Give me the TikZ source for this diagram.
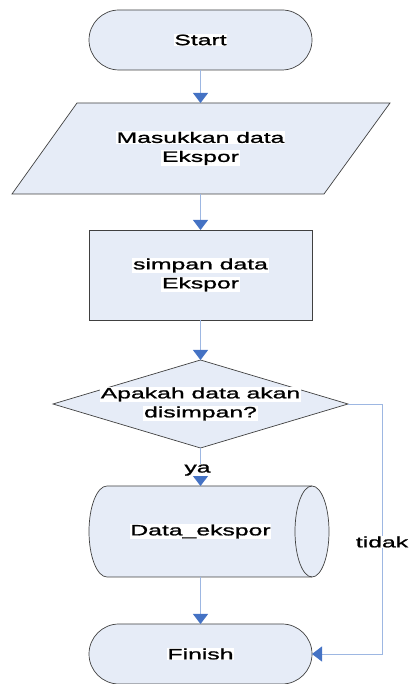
\documentclass[tikz,border=0pt]{standalone}
\usepackage{fontspec}
\setmainfont{Liberation Sans}[FakeStretch=1.65,FakeBold=1.2]
\usetikzlibrary{shapes.geometric,shapes.misc,arrows.meta}
\definecolor{shapefill}{HTML}{E6ECF7}
\definecolor{shapeline}{HTML}{404040}
\definecolor{conline}{HTML}{9DB7E2}
\definecolor{tipblue}{HTML}{4472C4}
\newcommand{\wbox}[1]{{\setlength{\fboxsep}{0.6pt}\colorbox{white}{#1}}}
\begin{document}
\begin{tikzpicture}[x=1pt,y=1pt,
  txt/.style={align=center, font=\fontsize{15}{19}\selectfont},
  term/.style={rounded rectangle, draw=shapeline, fill=shapefill, line width=0.7pt, minimum width=223pt, minimum height=60pt, inner sep=0pt, outer sep=0pt, txt},
  procbox/.style={rectangle, draw=shapeline, fill=shapefill, line width=0.7pt, minimum width=223pt, minimum height=90pt, outer sep=0pt, txt},
  decbox/.style={diamond, draw=shapeline, fill=shapefill, line width=0.7pt, minimum width=295pt, minimum height=88pt, inner sep=0pt, outer sep=0pt},
  ghost/.style={minimum height=91pt, inner sep=0pt, outer sep=0pt, txt},
  outline/.style={draw=shapeline, fill=shapefill, line width=0.7pt},
  conn/.style={draw=conline, line width=0.9pt, -{Triangle[width=15pt,length=10pt,color=tipblue,fill=tipblue]}},
  lbl/.style={fill=white, inner sep=0.6pt, txt}]
\useasboundingbox (0,0) rectangle (409,684);
% shapes
\node[term] (start) at (200.5,644) {\wbox{Start}};
\path[outline] (77,581) -- (390,581) -- (324,490) -- (12,490) -- cycle;
\node[ghost] (in) at (200.5,535.5) {\wbox{Masukkan data}\\\wbox{Ekspor}};
\node[procbox] (proc) at (200.5,409) {\wbox{simpan data}\\\wbox{Ekspor}};
\node[decbox] (dec) at (200.5,280) {};
\node[txt] (dectext) at (200.5,280) {\wbox{Apakah data akan}\\\wbox{disimpan?}};
\path[outline] (107,198) -- (312,198) arc[start angle=90,end angle=-90,x radius=17,y radius=45.5] -- (107,107) arc[start angle=270,end angle=90,x radius=18,y radius=45.5] -- cycle;
\draw[draw=shapeline, line width=0.7pt] (312,198) arc[start angle=90,end angle=270,x radius=17,y radius=45.5];
\node[ghost] (db) at (200.5,152.5) {\wbox{Data\_ekspor}};
\node[term] (fin) at (200.5,30) {\wbox{Finish}};
% connectors
\draw[conn] (start) -- (in);
\draw[conn] (in) -- (proc);
\draw[conn] (proc) -- (dec);
\draw[conn] (dec.south) -- (db.north) node[pos=0.58, lbl, xshift=-3pt] (ya) {ya};
\draw[conn] (db) -- (fin);
\coordinate (turn) at (382,280);
\draw[conn] (dec.east) -- (turn) |- (fin.east);
\node[lbl] (tidak) at (382,142) {tidak};
\end{tikzpicture}
\end{document}
